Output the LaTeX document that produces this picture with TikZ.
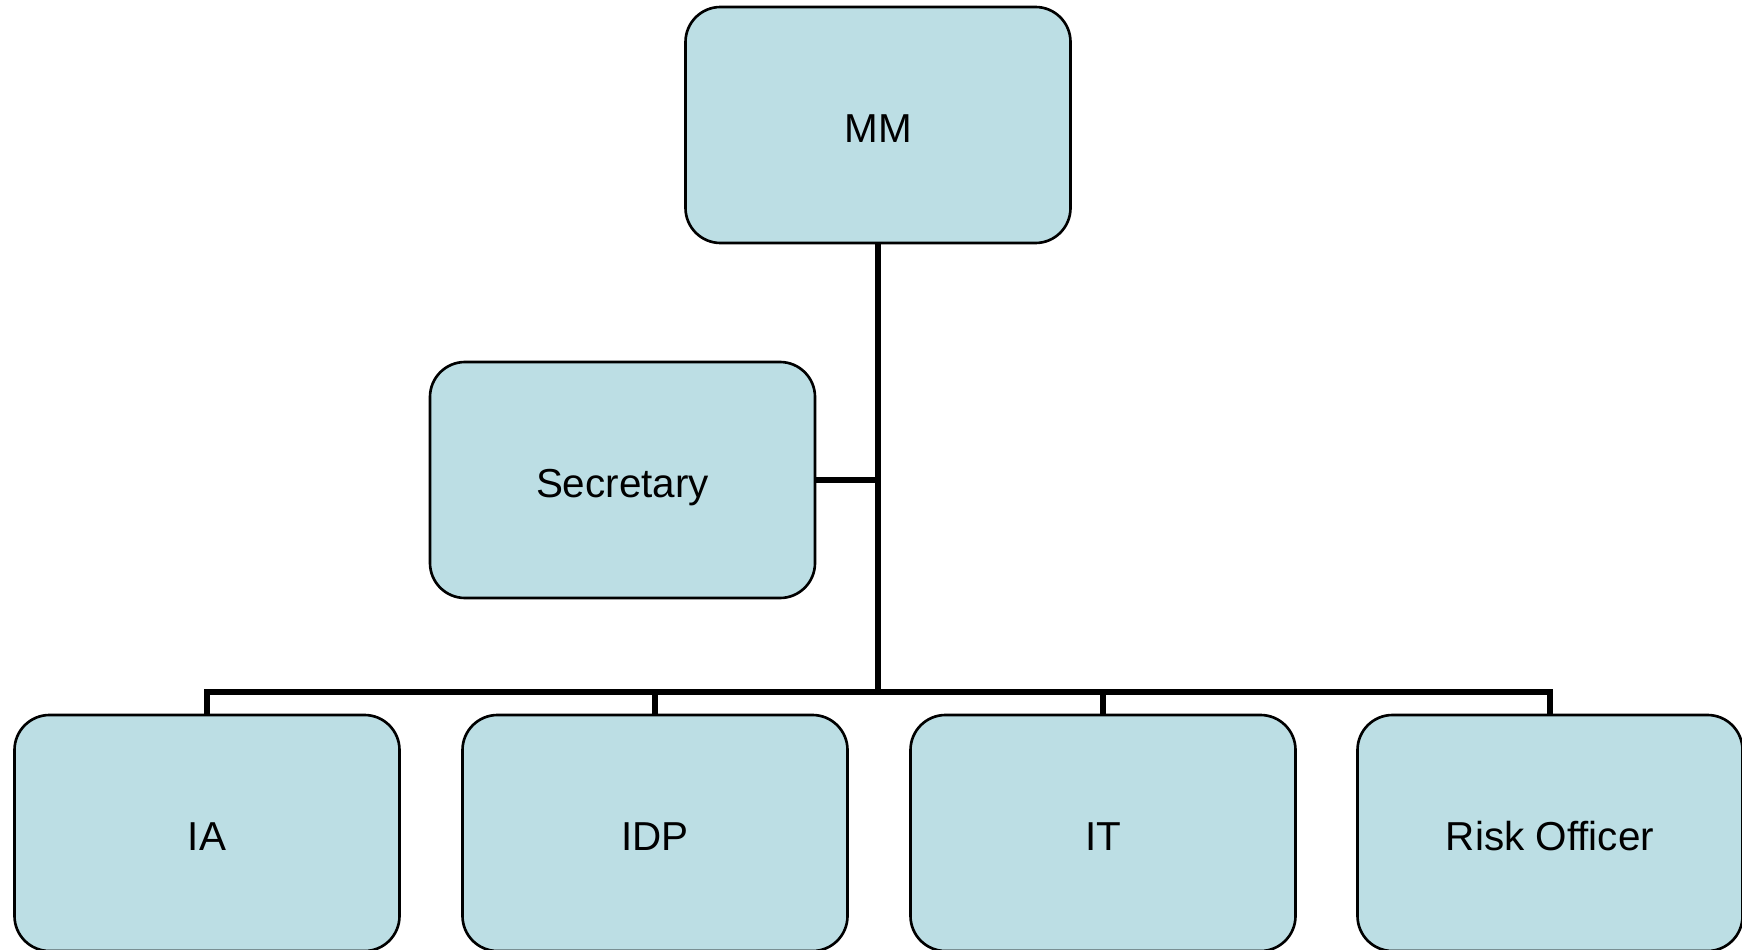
\documentclass[tikz,border=0pt]{standalone}
\usepackage{fontspec}
\setmainfont{Liberation Sans}
\usetikzlibrary{positioning}
\definecolor{boxblue}{RGB}{188,222,228}
\tikzset{
  unit/.style={draw=black, fill=boxblue, line width=1.5pt, rounded corners=0.7cm,
    minimum width=7.7cm, minimum height=4.72cm, font=\fontsize{23}{27}\selectfont,
    text height=20pt, text depth=0pt},
  link/.style={line width=3.6pt}
}

\begin{document}
\begin{tikzpicture}
      \useasboundingbox (0,0) rectangle (34.84,-19); % page size
      \node[unit] (mm) at (17.56,-2.5) {MM};
      \node[unit] (sec) at (12.45,-9.6) {Secretary};
      \node[unit] (ia) at (4.14,-16.66) {IA};
      \node[unit] (idp) at (13.10,-16.66) {IDP};
      \node[unit] (it) at (22.06,-16.66) {IT};
      \node[unit] (ro) at (31.00,-16.66) {Risk Officer};
      \coordinate (bus) at (17.56,-13.84); % the horizontal line
      \draw[link] (mm.south) -- (bus);
      \draw[link] (sec.east) -- (sec.east -| mm.south);
      \draw[link] (ia.north) |- (bus) -| (ro.north);
      \foreach \n in {idp,it}
      \draw[link] (\n.north) -- (\n.north |- bus);
    \end{tikzpicture}
\end{document}
